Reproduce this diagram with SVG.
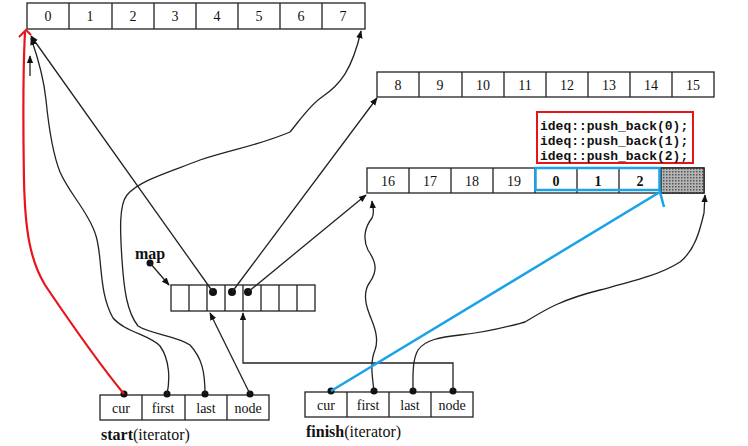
<svg xmlns="http://www.w3.org/2000/svg" width="748" height="446" viewBox="0 0 748 446">
<style>
.cell{fill:#fff;stroke:#222;stroke-width:1.3}
.t{font-family:"Liberation Serif",serif;font-size:14px;fill:#111;text-anchor:middle}
.tb{font-family:"Liberation Serif",serif;font-size:14px;fill:#111;text-anchor:middle;font-weight:bold}
.lbl{font-family:"Liberation Serif",serif;font-size:16px;fill:#111}
.code{font-family:"Liberation Mono",monospace;font-size:13px;fill:#111;font-weight:bold}
.c{fill:none;stroke:#222;stroke-width:1.3}
.dot{fill:#111}
</style>
<defs>
<marker id="ar" viewBox="0 0 10 10" refX="9" refY="5" markerWidth="8" markerHeight="8" markerUnits="userSpaceOnUse" orient="auto">
<path d="M0,1 L10,5 L0,9 z" fill="#111"/>
</marker>
<pattern id="hatch" width="3" height="3" patternUnits="userSpaceOnUse">
<rect width="3" height="3" fill="#b5b5b5"/>
<rect width="1.5" height="1.5" fill="#555"/>
</pattern>
</defs>

<g id="buffer0">
<rect class="cell" x="27" y="3" width="338" height="26"/>
<path class="c" d="M69,3V29M112,3V29M154,3V29M196,3V29M238,3V29M280,3V29M322,3V29"/>
<text class="t" x="48" y="21">0</text><text class="t" x="90" y="21">1</text><text class="t" x="133" y="21">2</text><text class="t" x="175" y="21">3</text>
<text class="t" x="217" y="21">4</text><text class="t" x="259" y="21">5</text><text class="t" x="301" y="21">6</text><text class="t" x="343" y="21">7</text>
</g>

<g id="buffer1">
<rect class="cell" x="377" y="72" width="337" height="25"/>
<path class="c" d="M419,72V97M462,72V97M504,72V97M546,72V97M588,72V97M630,72V97M672,72V97"/>
<text class="t" x="398" y="90">8</text><text class="t" x="440" y="90">9</text><text class="t" x="483" y="90">10</text><text class="t" x="525" y="90">11</text>
<text class="t" x="567" y="90">12</text><text class="t" x="609" y="90">13</text><text class="t" x="651" y="90">14</text><text class="t" x="693" y="90">15</text>
</g>

<g id="buffer2">
<rect class="cell" x="367" y="168" width="337" height="25"/>
<path class="c" d="M409,168V193M451,168V193M493,168V193M535,168V193M577,168V193M619,168V193M661,168V193"/>
<rect x="661" y="168" width="43" height="25" fill="url(#hatch)" stroke="#222" stroke-width="1.3"/>
<text class="t" x="388" y="186">16</text><text class="t" x="430" y="186">17</text><text class="t" x="472" y="186">18</text><text class="t" x="514" y="186">19</text>
<text class="tb" x="556" y="186">0</text><text class="tb" x="598" y="186">1</text><text class="tb" x="640" y="186">2</text>
<rect x="535.5" y="168" width="124" height="22" fill="none" stroke="#1aa3e8" stroke-width="2.5"/>
</g>

<g id="code">
<rect x="537" y="112" width="156" height="51" fill="#fff" stroke="#e8141b" stroke-width="2"/>
<text class="code" x="540" y="130">ideq::push_back(0);</text>
<text class="code" x="540" y="145">ideq::push_back(1);</text>
<text class="code" x="540" y="160">ideq::push_back(2);</text>
</g>

<g id="map">
<rect class="cell" x="171" y="285" width="144" height="26"/>
<path class="c" d="M189,285V311M207,285V311M225,285V311M243,285V311M261,285V311M279,285V311M297,285V311"/>
<circle class="dot" cx="213" cy="292" r="4"/>
<circle class="dot" cx="232" cy="292" r="4"/>
<circle class="dot" cx="248" cy="292" r="4"/>
<text class="lbl" x="135" y="259" font-weight="bold">map</text>
<circle class="dot" cx="150" cy="263" r="3.5"/>
</g>

<g id="start">
<rect class="cell" x="100" y="395" width="169" height="25"/>
<path class="c" d="M142,395V420M185,395V420M227,395V420"/>
<text class="t" x="121" y="413">cur</text><text class="t" x="163" y="413">first</text><text class="t" x="206" y="413">last</text><text class="t" x="248" y="413">node</text>
<circle class="dot" cx="124" cy="394" r="3.5"/><circle class="dot" cx="167" cy="394" r="3.5"/><circle class="dot" cx="205" cy="394" r="3.5"/><circle class="dot" cx="250" cy="394" r="3.5"/>
<text class="lbl" x="101" y="440"><tspan font-weight="bold">start</tspan>(iterator)</text>
</g>

<g id="finish">
<rect class="cell" x="305" y="392" width="168" height="25"/>
<path class="c" d="M347,392V417M389,392V417M431,392V417"/>
<text class="t" x="326" y="410">cur</text><text class="t" x="368" y="410">first</text><text class="t" x="410" y="410">last</text><text class="t" x="452" y="410">node</text>
<circle class="dot" cx="331" cy="391" r="3.5"/><circle class="dot" cx="374" cy="391" r="3.5"/><circle class="dot" cx="413" cy="391" r="3.5"/><circle class="dot" cx="453" cy="391" r="3.5"/>
<text class="lbl" x="306" y="437"><tspan font-weight="bold">finish</tspan>(iterator)</text>
</g>

<g id="connectors">
<path class="c" d="M150,263 L169,285" marker-end="url(#ar)"/>
<path class="c" d="M213,292 L31,36" marker-end="url(#ar)"/>
<path class="c" d="M232,292 L377,98" marker-end="url(#ar)"/>
<path class="c" d="M248,292 L366,195" marker-end="url(#ar)"/>
<path class="c" d="M30,76 L30,56" marker-end="url(#ar)"/>
<path class="c" d="M167,394 C170,380 170,360 160,346 C150,335 125,332 113,318 C103,300 102,280 100,260 C98,240 96,232 88,218 C78,200 68,190 60,172 C52,152 48,120 46,100 C44,80 38,58 31,38" marker-end="url(#ar)"/>
<path class="c" d="M205,394 C205,372 202,358 190,345 C178,336 150,334 138,326 C127,312 124,290 122,260 C120,230 119,205 127,195 C140,180 170,172 200,160 C230,150 260,145 290,132 C300,120 310,105 322,97 C340,85 352,70 361,31" marker-end="url(#ar)"/>
<path class="c" d="M250,394 L210,313" marker-end="url(#ar)"/>
<path class="c" d="M453,391 V363 H243 V313" marker-end="url(#ar)"/>
<path class="c" d="M374,391 C372,375 370,362 375,350 C380,336 372,322 369,313 C364,300 364,290 370,282 C378,270 376,262 368,250 C363,240 364,228 372,218 C375,212 373,210 372,201" marker-end="url(#ar)"/>
<path class="c" d="M413,391 C413,378 412,360 418,350 C425,340 440,337 460,335 C490,332 510,326 525,322 C545,310 560,300 600,290 C630,282 660,275 680,262 C695,250 700,230 704,213 L705,195" marker-end="url(#ar)"/>
<path d="M124,394 C100,365 70,322 45,285 C30,260 25,230 24,180 C23,120 23,70 25,32" fill="none" stroke="#e8141b" stroke-width="2.2"/>
<path d="M19,37 L26,30 L31,35" fill="none" stroke="#e8141b" stroke-width="2"/>
<path d="M331,391 L660,192 L664,207" fill="none" stroke="#1aa3e8" stroke-width="2.5"/>
</g>
</svg>
